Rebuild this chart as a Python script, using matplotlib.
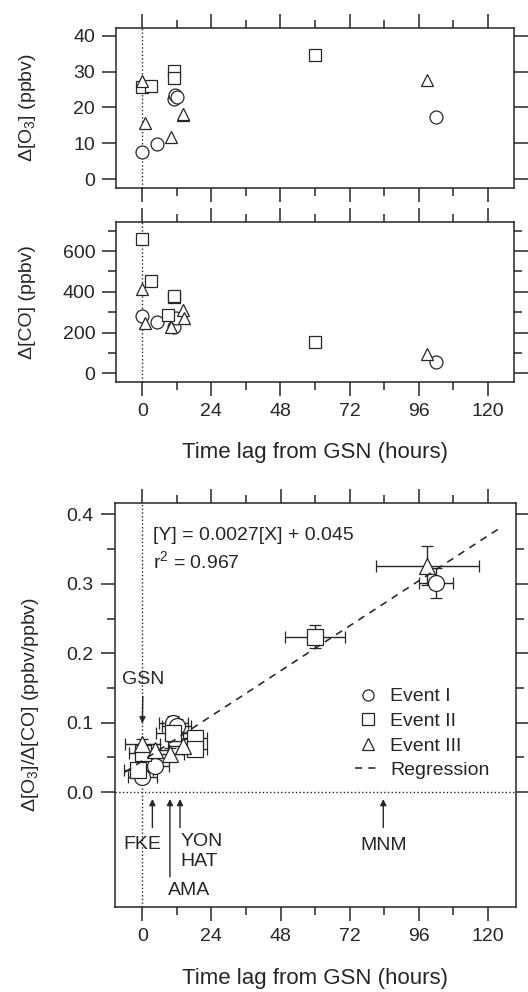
import numpy as np
import matplotlib as mpl
mpl.use('Agg')
import matplotlib.pyplot as plt
from matplotlib.lines import Line2D

plt.rcParams['font.family'] = ['Liberation Sans', 'DejaVu Sans']
plt.rcParams['mathtext.default'] = 'regular'

# ---- data ----
# panel a: delta O3 (ppbv) vs time lag (hours)
o3_ev1_x = [0, 5, 11, 11.5, 12, 102]
o3_ev1_y = [7.5, 9.8, 22.3, 23.5, 22.8, 17.2]
o3_ev2_x = [0, 3, 11, 11, 60]
o3_ev2_y = [25.6, 26.0, 30.2, 28.1, 34.6]
o3_ev3_x = [0, 1, 10, 14, 14, 99]
o3_ev3_y = [27.4, 15.7, 11.8, 18.0, 18.2, 27.8]

# panel b: delta CO (ppbv)
co_ev1_x = [0, 5, 11, 11.8, 102]
co_ev1_y = [283, 252, 229, 270, 57]
co_ev2_x = [0, 3, 8.8, 11, 11.2, 60]
co_ev2_y = [657, 453, 286, 376, 378, 155]
co_ev3_x = [0, 1, 10, 14, 14.5, 99]
co_ev3_y = [412, 248, 229, 311, 270, 95]

# panel c: delta O3 / delta CO ratio with error bars
r_ev1_x = [0, 4.4, 10.8, 12, 102]
r_ev1_y = [0.022, 0.038, 0.100, 0.095, 0.301]
r_ev1_xerr = [5, 5, 5, 5, 6]
r_ev1_yerr = [0.008, 0.008, 0.010, 0.010, 0.022]
r_ev2_x = [0.3, -1.4, 10.8, 18.3, 18.3, 60]
r_ev2_y = [0.056, 0.032, 0.085, 0.078, 0.062, 0.224]
r_ev2_xerr = [5, 5, 6, 4, 4, 10.4]
r_ev2_yerr = [0.008, 0.008, 0.012, 0.010, 0.010, 0.017]
r_ev3_x = [0, 4.4, 9.6, 14, 99]
r_ev3_y = [0.069, 0.061, 0.055, 0.066, 0.326]
r_ev3_xerr = [6, 5, 5, 5, 18]
r_ev3_yerr = [0.008, 0.008, 0.008, 0.010, 0.028]

reg_slope = 0.0027
reg_icpt = 0.045
reg_x = np.array([-6, 124])

site_labels = ['FKE', 'AMA', 'YON', 'MNM']
site_x = [3.5, 9.6, 13.1, 83.7]
site_tail = [-0.051, -0.122, -0.051, -0.051]

INK = '#262626'
FS = 14

fig = plt.figure(figsize=(5.28, 9.92), dpi=100)
ax1 = fig.add_axes([0.2197, 0.8105, 0.7538, 0.1613])
ax2 = fig.add_axes([0.2197, 0.6146, 0.7538, 0.1619])
ax3 = fig.add_axes([0.2169, 0.0860, 0.7604, 0.4067])


def style_axis(ax, xlim):
	ax.set_xlim(xlim)
	ax.set_xticks(range(0, 121, 24))
	ax.set_xticks(range(12, 121, 24), minor=True)
	ax.tick_params(which='both', direction='out', top=True, right=True,
				   color=INK, labelcolor=INK, labelsize=FS, width=1.1)
	ax.tick_params(which='major', length=10, pad=5)
	ax.tick_params(which='minor', length=5.5)
	for s in ax.spines.values():
		s.set_linewidth(1.1)
		s.set_color(INK)
	ax.axvline(0, ls=':', lw=1.0, color=INK, zorder=1)


mk = dict(ls='none', mfc='white', mec=INK, mew=0.9, zorder=3)

# top panel
style_axis(ax1, (-9.1, 129.1))
ax1.plot(o3_ev1_x, o3_ev1_y, marker='o', ms=9.3, **mk)
ax1.plot(o3_ev2_x, o3_ev2_y, marker='s', ms=9.3, **mk)
ax1.plot(o3_ev3_x, o3_ev3_y, marker='^', ms=9.3, **mk)
ax1.set_ylim(-2.5, 42.2)
ax1.set_yticks([0, 10, 20, 30, 40])
ax1.tick_params(labelbottom=False)
ax1.set_ylabel('Δ[O$_3$] (ppbv)', fontsize=FS, color=INK)
ax1.yaxis.label.set_va('center')
ax1.yaxis.set_label_coords(-0.222, 0.5)

# middle panel
style_axis(ax2, (-9.1, 129.1))
ax2.plot(co_ev1_x, co_ev1_y, marker='o', ms=9.3, **mk)
ax2.plot(co_ev2_x, co_ev2_y, marker='s', ms=9.3, **mk)
ax2.plot(co_ev3_x, co_ev3_y, marker='^', ms=9.3, **mk)
ax2.set_ylim(-44, 744)
ax2.set_yticks([0, 200, 400, 600])
ax2.set_yticks([100, 300, 500, 700], minor=True)
ax2.set_ylabel('Δ[CO] (ppbv)', fontsize=FS, color=INK)
ax2.yaxis.label.set_va('center')
ax2.yaxis.set_label_coords(-0.222, 0.5)
ax2.set_xlabel('Time lag from GSN (hours)', fontsize=16, color=INK)
ax2.xaxis.label.set_va('center')
ax2.xaxis.set_label_coords(0.5, -0.434)

# bottom panel
style_axis(ax3, (-9.65, 129.8))
ax3.axhline(0, ls=':', lw=1.0, color=INK, zorder=1)
eb = dict(ecolor=INK, elinewidth=1.0, capsize=4, capthick=1.0, **mk)
ax3.errorbar(r_ev1_x, r_ev1_y, xerr=r_ev1_xerr, yerr=r_ev1_yerr, fmt='o', ms=11.5, **eb)
ax3.errorbar(r_ev2_x, r_ev2_y, xerr=r_ev2_xerr, yerr=r_ev2_yerr, fmt='s', ms=11.5, **eb)
ax3.errorbar(r_ev3_x, r_ev3_y, xerr=r_ev3_xerr, yerr=r_ev3_yerr, fmt='^', ms=11.5, **eb)
ax3.plot(reg_x, reg_slope * reg_x + reg_icpt, ls=(0, (4.5, 3.8)), lw=1.15, color=INK, zorder=4)
ax3.set_ylim(-0.165, 0.416)
ax3.set_yticks([0.0, 0.1, 0.2, 0.3, 0.4])
ax3.set_yticks([0.05, 0.15, 0.25, 0.35], minor=True)
ax3.yaxis.set_major_formatter(mpl.ticker.FormatStrFormatter('%.1f'))
ax3.set_ylabel('Δ[O$_3$]/Δ[CO] (ppbv/ppbv)', fontsize=FS, color=INK)
ax3.yaxis.label.set_va('center')
ax3.yaxis.set_label_coords(-0.21, 0.5)
ax3.set_xlabel('Time lag from GSN (hours)', fontsize=16, color=INK)
ax3.xaxis.label.set_va('center')
ax3.xaxis.set_label_coords(0.5, -0.177)

ax3.text(3.8, 0.370, '[Y] = 0.0027[X] + 0.045', fontsize=FS, color=INK, va='center')
ax3.text(3.8, 0.332, 'r$^2$ = 0.967', fontsize=FS, color=INK, va='center')

arr = dict(arrowstyle='-|>', lw=1.0, color=INK, mutation_scale=9, shrinkA=0, shrinkB=0)
ax3.annotate('GSN', xy=(0, 0.099), xytext=(0.3, 0.162), fontsize=FS, color=INK,
			 ha='center', va='center', arrowprops=dict(arr, shrinkA=4))
for name, sx, tail in zip(site_labels, site_x, site_tail):
	ax3.annotate('', xy=(sx, -0.010), xytext=(sx, tail), arrowprops=arr)
ax3.text(0, -0.0757, 'FKE', fontsize=FS, color=INK, ha='center', va='center')
ax3.text(13.3, -0.0715, 'YON', fontsize=FS, color=INK, ha='left', va='center')
ax3.text(13.3, -0.0999, 'HAT', fontsize=FS, color=INK, ha='left', va='center')
ax3.text(16.2, -0.1416, 'AMA', fontsize=FS, color=INK, ha='center', va='center')
ax3.text(83.7, -0.0773, 'MNM', fontsize=FS, color=INK, ha='center', va='center')

handles = [
	Line2D([], [], marker='o', ms=8, ls='none', mfc='white', mec=INK, mew=0.9),
	Line2D([], [], marker='s', ms=8, ls='none', mfc='white', mec=INK, mew=0.9),
	Line2D([], [], marker='^', ms=8, ls='none', mfc='white', mec=INK, mew=0.9),
	Line2D([], [], ls=(0, (4.5, 3.8)), lw=1.15, color=INK),
]
leg = ax3.legend(handles, ['Event I', 'Event II', 'Event III', 'Regression'],
				 loc='upper left', bbox_to_anchor=(0.60, 0.5425), frameon=False,
				 fontsize=FS, handlelength=1.3, handletextpad=0.5, labelspacing=0.36,
				 borderpad=0, borderaxespad=0)
for t in leg.get_texts():
	t.set_color(INK)

plt.savefig('out.png', dpi=100)
